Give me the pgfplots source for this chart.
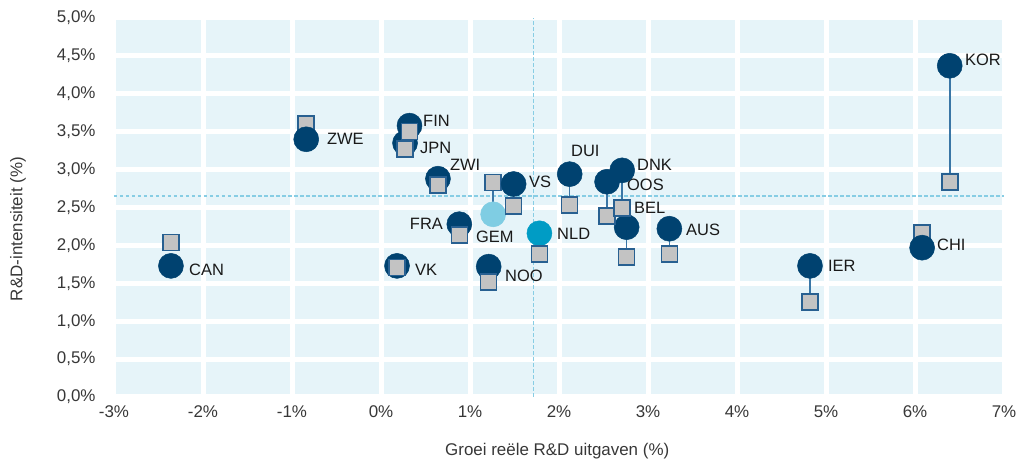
\documentclass[border=0pt]{standalone}
\usepackage{fontspec}
\setmainfont{Liberation Sans}
\usepackage{pgfplots}
\usepackage{pgfplotstable}
\pgfplotsset{compat=1.18}
\definecolor{bgcol}{RGB}{230,244,249}
\definecolor{navy}{RGB}{0,66,112}
\definecolor{gemcol}{RGB}{127,205,227}
\definecolor{nldcol}{RGB}{0,156,197}
\definecolor{sqfill}{RGB}{195,195,195}
\definecolor{sqedge}{RGB}{40,96,145}
\definecolor{linkcol}{RGB}{58,118,166}
\definecolor{dashcol}{RGB}{135,205,228}
\definecolor{txt}{RGB}{25,25,25}
\definecolor{ticktxt}{RGB}{55,55,55}

% circles (2nd year), navy
\pgfplotstableread{
name x yc
CAN -2.36 1.73
ZWE -0.84 3.40
FIN 0.32 3.58
JPN 0.27 3.35
ZWI 0.64 2.88
FRA 0.88 2.28
VK 0.18 1.73
NOO 1.21 1.72
VS 1.49 2.81
DUI 2.12 2.94
OOS 2.54 2.84
DNK 2.71 2.99
BEL 2.76 2.24
AUS 3.24 2.22
IER 4.82 1.73
CHI 6.08 1.97
KOR 6.39 4.37
}\circles

% squares (1st year) lying above their circle
\pgfplotstableread{
name x ys
CAN -2.36 2.04
ZWE -0.84 3.60
GEM 1.26 2.83
CHI 6.08 2.16
}\squaresup

% squares (1st year) lying below their circle
\pgfplotstableread{
name x ys
FIN 0.32 3.50
JPN 0.27 3.27
ZWI 0.64 2.80
FRA 0.88 2.14
VK 0.18 1.71
NOO 1.21 1.52
VS 1.49 2.52
NLD 1.78 1.89
DUI 2.12 2.53
OOS 2.54 2.39
DNK 2.71 2.49
BEL 2.76 1.85
AUS 3.24 1.89
IER 4.82 1.25
KOR 6.39 2.84
}\squaresdown

% connecting segments
\pgfplotstableread{
x y
-0.84 3.40
-0.84 3.60
nan nan
0.32 3.58
0.32 3.50
nan nan
0.27 3.35
0.27 3.27
nan nan
0.64 2.88
0.64 2.80
nan nan
0.88 2.28
0.88 2.14
nan nan
1.21 1.72
1.21 1.52
nan nan
1.26 2.41
1.26 2.83
nan nan
1.49 2.81
1.49 2.52
nan nan
1.78 2.16
1.78 1.89
nan nan
2.12 2.94
2.12 2.53
nan nan
2.54 2.84
2.54 2.39
nan nan
2.71 2.99
2.71 2.49
nan nan
2.76 2.24
2.76 1.85
nan nan
3.24 2.22
3.24 1.89
nan nan
4.82 1.73
4.82 1.25
nan nan
6.08 1.97
6.08 2.16
nan nan
6.39 4.37
6.39 2.84
}\links

\begin{document}
\begin{tikzpicture}
\path[use as bounding box] (-114bp,-64bp) rectangle (910bp,397bp);
\begin{axis}[
  at={(0,0)}, anchor=south west,
  scale only axis, width=890bp, height=379bp,
  xmin=-3, xmax=7, ymin=0, ymax=5,
  xtick={-3,-2,-1,0,1,2,3,4,5,6,7},
  xticklabels={-3\%,-2\%,-1\%,0\%,1\%,2\%,3\%,4\%,5\%,6\%,7\%},
  ytick={0,0.5,1,1.5,2,2.5,3,3.5,4,4.5,5},
  yticklabels={{0,0\%},{0,5\%},{1,0\%},{1,5\%},{2,0\%},{2,5\%},{3,0\%},{3,5\%},{4,0\%},{4,5\%},{5,0\%}},
  grid=major,
  major grid style={white, line width=5bp},
  axis line style={draw=none},
  tick style={draw=none},
  axis background/.style={fill=bgcol},
  ticklabel style={font=\fontsize{17}{20}\selectfont, text=ticktxt},
  yticklabel style={xshift=-15bp},
  xticklabel style={yshift=-5bp},
  xlabel={Groei reële R\&D uitgaven (\%)},
  ylabel={R\&D-intensiteit (\%)},
  xlabel style={at={(axis description cs:0.498,-0.1425)}, anchor=center, font=\fontsize{17}{20}\selectfont, text=ticktxt},
  ylabel style={at={(axis description cs:-0.108,0.443)}, anchor=center, font=\fontsize{17}{20}\selectfont, text=ticktxt},
  clip=false,
  unbounded coords=jump,
]
\addplot[dashcol, line width=1.3bp, dash pattern=on 3.5bp off 2.5bp] coordinates {(1.71,0) (1.71,5)};
\addplot[dashcol, line width=1.3bp, dash pattern=on 3.5bp off 2.5bp] coordinates {(-3,2.65) (7,2.65)};
\addplot[linkcol, line width=1.6bp] table[x=x,y=y] {\links};
\addplot[only marks, mark=square*, mark size=8bp, mark options={fill=sqfill, draw=sqedge, line width=1.6bp}] table[x=x,y=ys] {\squaresup};
\addplot[only marks, mark=*, mark size=12.5bp, mark options={fill=navy, draw=navy, line width=0.5bp}] table[x=x,y=yc] {\circles};
\addplot[only marks, mark=*, mark size=12.5bp, mark options={fill=gemcol, draw=gemcol, line width=0.5bp}] coordinates {(1.26,2.41)};
\addplot[only marks, mark=*, mark size=12.5bp, mark options={fill=nldcol, draw=nldcol, line width=0.5bp}] coordinates {(1.78,2.16)};
\addplot[only marks, mark=square*, mark size=8bp, mark options={fill=sqfill, draw=sqedge, line width=1.6bp}] table[x=x,y=ys] {\squaresdown};

\begin{scope}[every node/.style={font=\fontsize{16.5}{18}\selectfont, text=txt, inner sep=0pt, text depth=0pt}]
\node[anchor=west] at (axis cs:-2.157,1.675) {CAN};
\node[anchor=west] at (axis cs:-0.607,3.40) {ZWE};
\node[anchor=west] at (axis cs:0.472,3.64) {FIN};
\node[anchor=west] at (axis cs:0.438,3.285) {JPN};
\node[anchor=west] at (axis cs:0.775,3.06) {ZWI};
\node[anchor=west] at (axis cs:1.663,2.836) {VS};
\node[anchor=west] at (axis cs:2.135,3.245) {DUI};
\node[anchor=west] at (axis cs:2.876,3.06) {DNK};
\node[anchor=west] at (axis cs:2.764,2.797) {OOS};
\node[anchor=west] at (axis cs:2.843,2.49) {BEL};
\node[anchor=west] at (axis cs:3.427,2.20) {AUS};
\node[anchor=west] at (axis cs:1.978,2.15) {NLD};
\node[anchor=west] at (axis cs:1.067,2.11) {GEM};
\node[anchor=east] at (axis cs:0.697,2.28) {FRA};
\node[anchor=west] at (axis cs:1.393,1.596) {NOO};
\node[anchor=west] at (axis cs:0.382,1.675) {VK};
\node[anchor=west] at (axis cs:5.022,1.728) {IER};
\node[anchor=west] at (axis cs:6.247,2.005) {CHI};
\node[anchor=west] at (axis cs:6.562,4.446) {KOR};
\end{scope}
\end{axis}
\end{tikzpicture}
\end{document}
